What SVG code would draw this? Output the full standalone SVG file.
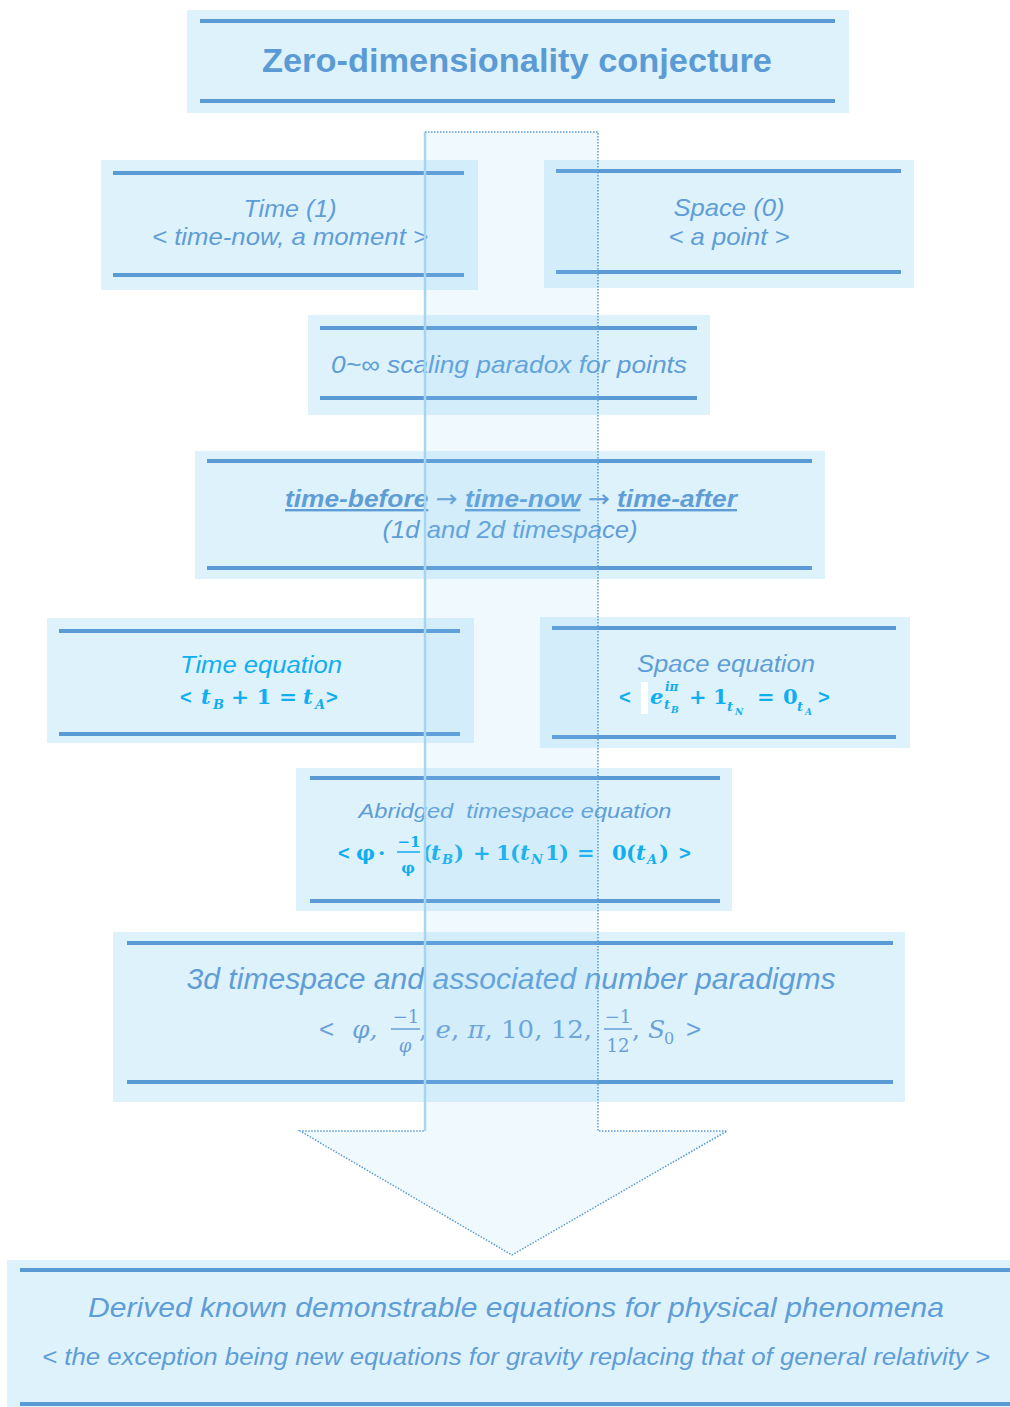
<svg xmlns="http://www.w3.org/2000/svg" width="1010" height="1407" viewBox="0 0 1010 1407">
<defs>
<style>
.box{fill:#def2fc}
.rule{stroke:#5b9bd5;stroke-width:4;fill:none}
.t{font-family:"Liberation Sans",Arial,sans-serif;font-style:italic;fill:#5f9dd7;text-anchor:middle}
.cy{fill:#10aeee}
.m{font-family:"DejaVu Serif","Liberation Serif",serif;font-size:21px;fill:#10aeee;font-weight:bold}
.mi{font-style:italic}
.s{font-family:"Liberation Sans",Arial,sans-serif}
.m3{font-family:"DejaVu Serif","Liberation Serif",serif;font-size:25px;fill:#6a9fd8}
.ar{font-family:"DejaVu Sans",sans-serif;font-weight:normal;text-decoration:none}
</style>
</defs>
<rect width="1010" height="1407" fill="#ffffff"/>

<g id="node-title">
<rect class="box" x="187" y="10" width="662" height="103"/>
<line class="rule" x1="200" y1="21" x2="835" y2="21"/>
<line class="rule" x1="200" y1="101" x2="835" y2="101"/>
<text x="517" y="72" font-family="Liberation Sans, Arial, sans-serif" font-weight="bold" font-size="34" fill="#5b9bd5" text-anchor="middle" textLength="510" lengthAdjust="spacingAndGlyphs">Zero-dimensionality conjecture</text>
</g>

<g id="node-time">
<rect class="box" x="101" y="160" width="377" height="130"/>
<line class="rule" x1="113" y1="173" x2="464" y2="173"/>
<line class="rule" x1="113" y1="275" x2="464" y2="275"/>
<text class="t" x="290" y="217" font-size="24" textLength="93" lengthAdjust="spacingAndGlyphs">Time (1)</text>
<text class="t" x="290" y="245" font-size="24" textLength="276" lengthAdjust="spacingAndGlyphs">&lt; time-now, a moment &gt;</text>
</g>

<g id="node-space">
<rect class="box" x="544" y="160" width="370" height="128"/>
<line class="rule" x1="556" y1="171" x2="901" y2="171"/>
<line class="rule" x1="556" y1="272" x2="901" y2="272"/>
<text class="t" x="729" y="216" font-size="24" textLength="111" lengthAdjust="spacingAndGlyphs">Space (0)</text>
<text class="t" x="729" y="245" font-size="24" textLength="121" lengthAdjust="spacingAndGlyphs">&lt; a point &gt;</text>
</g>

<g id="node-paradox">
<rect class="box" x="308" y="315" width="402" height="100"/>
<line class="rule" x1="320" y1="328" x2="697" y2="328"/>
<line class="rule" x1="320" y1="398" x2="697" y2="398"/>
<text class="t" x="509" y="373" font-size="24" textLength="356" lengthAdjust="spacingAndGlyphs">0~∞ scaling paradox for points</text>
</g>

<g id="node-timeflow">
<rect class="box" x="195" y="451" width="630" height="128"/>
<line class="rule" x1="207" y1="461" x2="812" y2="461"/>
<line class="rule" x1="207" y1="568" x2="812" y2="568"/>
<text class="t" x="511" y="507" font-size="24" font-weight="bold" textLength="452" lengthAdjust="spacingAndGlyphs"><tspan text-decoration="underline">time-before</tspan> <tspan class="ar">→</tspan> <tspan text-decoration="underline">time-now</tspan> <tspan class="ar">→</tspan> <tspan text-decoration="underline">time-after</tspan></text>
<text class="t" x="510" y="538" font-size="24" textLength="255" lengthAdjust="spacingAndGlyphs">(1d and 2d timespace)</text>
</g>

<g id="node-time-equation">
<rect class="box" x="47" y="618" width="427" height="125"/>
<line class="rule" x1="59" y1="631" x2="460" y2="631"/>
<line class="rule" x1="59" y1="734" x2="460" y2="734"/>
<text class="t cy" x="261" y="673" font-size="23" textLength="162" lengthAdjust="spacingAndGlyphs">Time equation</text>
<g class="m">
<text class="s" x="180" y="704" font-size="20">&lt;</text>
<text class="mi" x="201" y="704">t</text>
<text class="mi" x="213" y="709" font-size="13">B</text>
<text x="231" y="704" textLength="66" lengthAdjust="spacingAndGlyphs">+ 1 =</text>
<text class="mi" x="303" y="704">t</text>
<text class="mi" x="315" y="709" font-size="13">A</text>
<text class="s" x="326" y="704" font-size="20">&gt;</text>
</g>
</g>

<g id="node-space-equation">
<rect class="box" x="540" y="617" width="370" height="131"/>
<line class="rule" x1="552" y1="628" x2="896" y2="628"/>
<line class="rule" x1="552" y1="737" x2="896" y2="737"/>
<text class="t" x="726" y="672" font-size="23" textLength="178" lengthAdjust="spacingAndGlyphs">Space equation</text>
<rect x="641" y="682" width="7" height="32" fill="#ffffff"/>
<g class="m">
<text class="s" x="619" y="704" font-size="20">&lt;</text>
<text class="mi" x="650" y="704">e</text>
<text class="mi" x="665" y="691" font-size="12">iπ</text>
<text class="mi" x="664" y="709" font-size="13">t</text>
<text class="mi" x="671" y="713" font-size="9">B</text>
<text x="689" y="704">+</text>
<text x="713" y="704">1</text>
<text class="mi" x="727" y="711" font-size="13">t</text>
<text class="mi" x="735" y="715" font-size="9">N</text>
<text x="757" y="704">=</text>
<text x="783" y="704">0</text>
<text class="mi" x="797" y="711" font-size="13">t</text>
<text class="mi" x="805" y="715" font-size="9">A</text>
<text class="s" x="818" y="704" font-size="20">&gt;</text>
</g>
</g>

<g id="node-abridged">
<rect class="box" x="296" y="768" width="436" height="143"/>
<line class="rule" x1="310" y1="778" x2="720" y2="778"/>
<line class="rule" x1="310" y1="901" x2="720" y2="901"/>
<text class="t" x="515" y="818" font-size="20" textLength="313" lengthAdjust="spacingAndGlyphs">Abridged&#160; timespace equation</text>
<g class="m">
<text class="s" x="338" y="860" font-size="20">&lt;</text>
<text x="356" y="860">φ</text>
<text x="378" y="860">·</text>
<text x="409" y="847" font-size="15" text-anchor="middle">−1</text>
<line x1="397" y1="852" x2="420" y2="852" stroke="#10aeee" stroke-width="1.5"/>
<text x="408" y="873" font-size="15" text-anchor="middle">φ</text>
<text x="422" y="860">(</text>
<text class="mi" x="431" y="860">t</text>
<text class="mi" x="442" y="864" font-size="13">B</text>
<text x="454" y="860">)</text>
<text x="473" y="860">+</text>
<text x="496" y="860">1</text>
<text x="510" y="860">(</text>
<text class="mi" x="520" y="860">t</text>
<text class="mi" x="531" y="864" font-size="13">N</text>
<text x="545" y="860">1</text>
<text x="559" y="860">)</text>
<text x="577" y="860">=</text>
<text x="612" y="860">0</text>
<text x="626" y="860">(</text>
<text class="mi" x="636" y="860">t</text>
<text class="mi" x="647" y="864" font-size="13">A</text>
<text x="659" y="860">)</text>
<text class="s" x="679" y="860" font-size="20">&gt;</text>
</g>
</g>

<g id="node-3d">
<rect class="box" x="113" y="932" width="792" height="170"/>
<line class="rule" x1="127" y1="943" x2="893" y2="943"/>
<line class="rule" x1="127" y1="1082" x2="893" y2="1082"/>
<text class="t" x="511" y="989" font-size="30" textLength="649" lengthAdjust="spacingAndGlyphs">3d timespace and associated number paradigms</text>
<g class="m3">
<text class="s" x="319" y="1038" font-size="26">&lt;</text>
<text class="mi" x="352" y="1038">φ,</text>
<text x="406" y="1023" font-size="18" text-anchor="middle">−1</text>
<line x1="391" y1="1029" x2="420" y2="1029" stroke="#6a9fd8" stroke-width="1.5"/>
<text class="mi" x="405" y="1052" font-size="18" text-anchor="middle">φ</text>
<text x="419" y="1038" textLength="173" lengthAdjust="spacingAndGlyphs">, <tspan font-style="italic">e</tspan>, <tspan font-style="italic">π</tspan>, 10, 12,</text>
<text x="618" y="1023" font-size="18" text-anchor="middle">−1</text>
<line x1="604" y1="1029" x2="632" y2="1029" stroke="#6a9fd8" stroke-width="1.5"/>
<text x="618" y="1052" font-size="18" text-anchor="middle">12</text>
<text x="632" y="1038">, <tspan font-style="italic">S</tspan></text>
<text x="664" y="1044" font-size="16">0</text>
<text class="s" x="686" y="1038" font-size="26">&gt;</text>
</g>
</g>

<g id="node-derived">
<rect class="box" x="7" y="1260" width="1003" height="147"/>
<line class="rule" x1="20" y1="1270" x2="1010" y2="1270"/>
<line class="rule" x1="20" y1="1404" x2="1010" y2="1404"/>
<text class="t" x="516" y="1317" font-size="28" textLength="856" lengthAdjust="spacingAndGlyphs">Derived known demonstrable equations for physical phenomena</text>
<text class="t" x="516" y="1365" font-size="23" textLength="948" lengthAdjust="spacingAndGlyphs">&lt; the exception being new equations for gravity replacing that of general relativity &gt;</text>
</g>

<g id="connectors">
<polygon points="425,132 598,132 598,1131 727,1131 512,1255 300,1131 425,1131" fill="#87cff7" fill-opacity="0.125"/>
<line x1="425" y1="132" x2="425" y2="1131" stroke="#a6d5f1" stroke-width="2.5"/>
<polyline points="425,132 598,132 598,1131 727,1131 512,1255 300,1131 425,1131" fill="none" stroke="#5b9bd5" stroke-width="1.5" stroke-dasharray="1.5 1.5"/>
</g>
</svg>
